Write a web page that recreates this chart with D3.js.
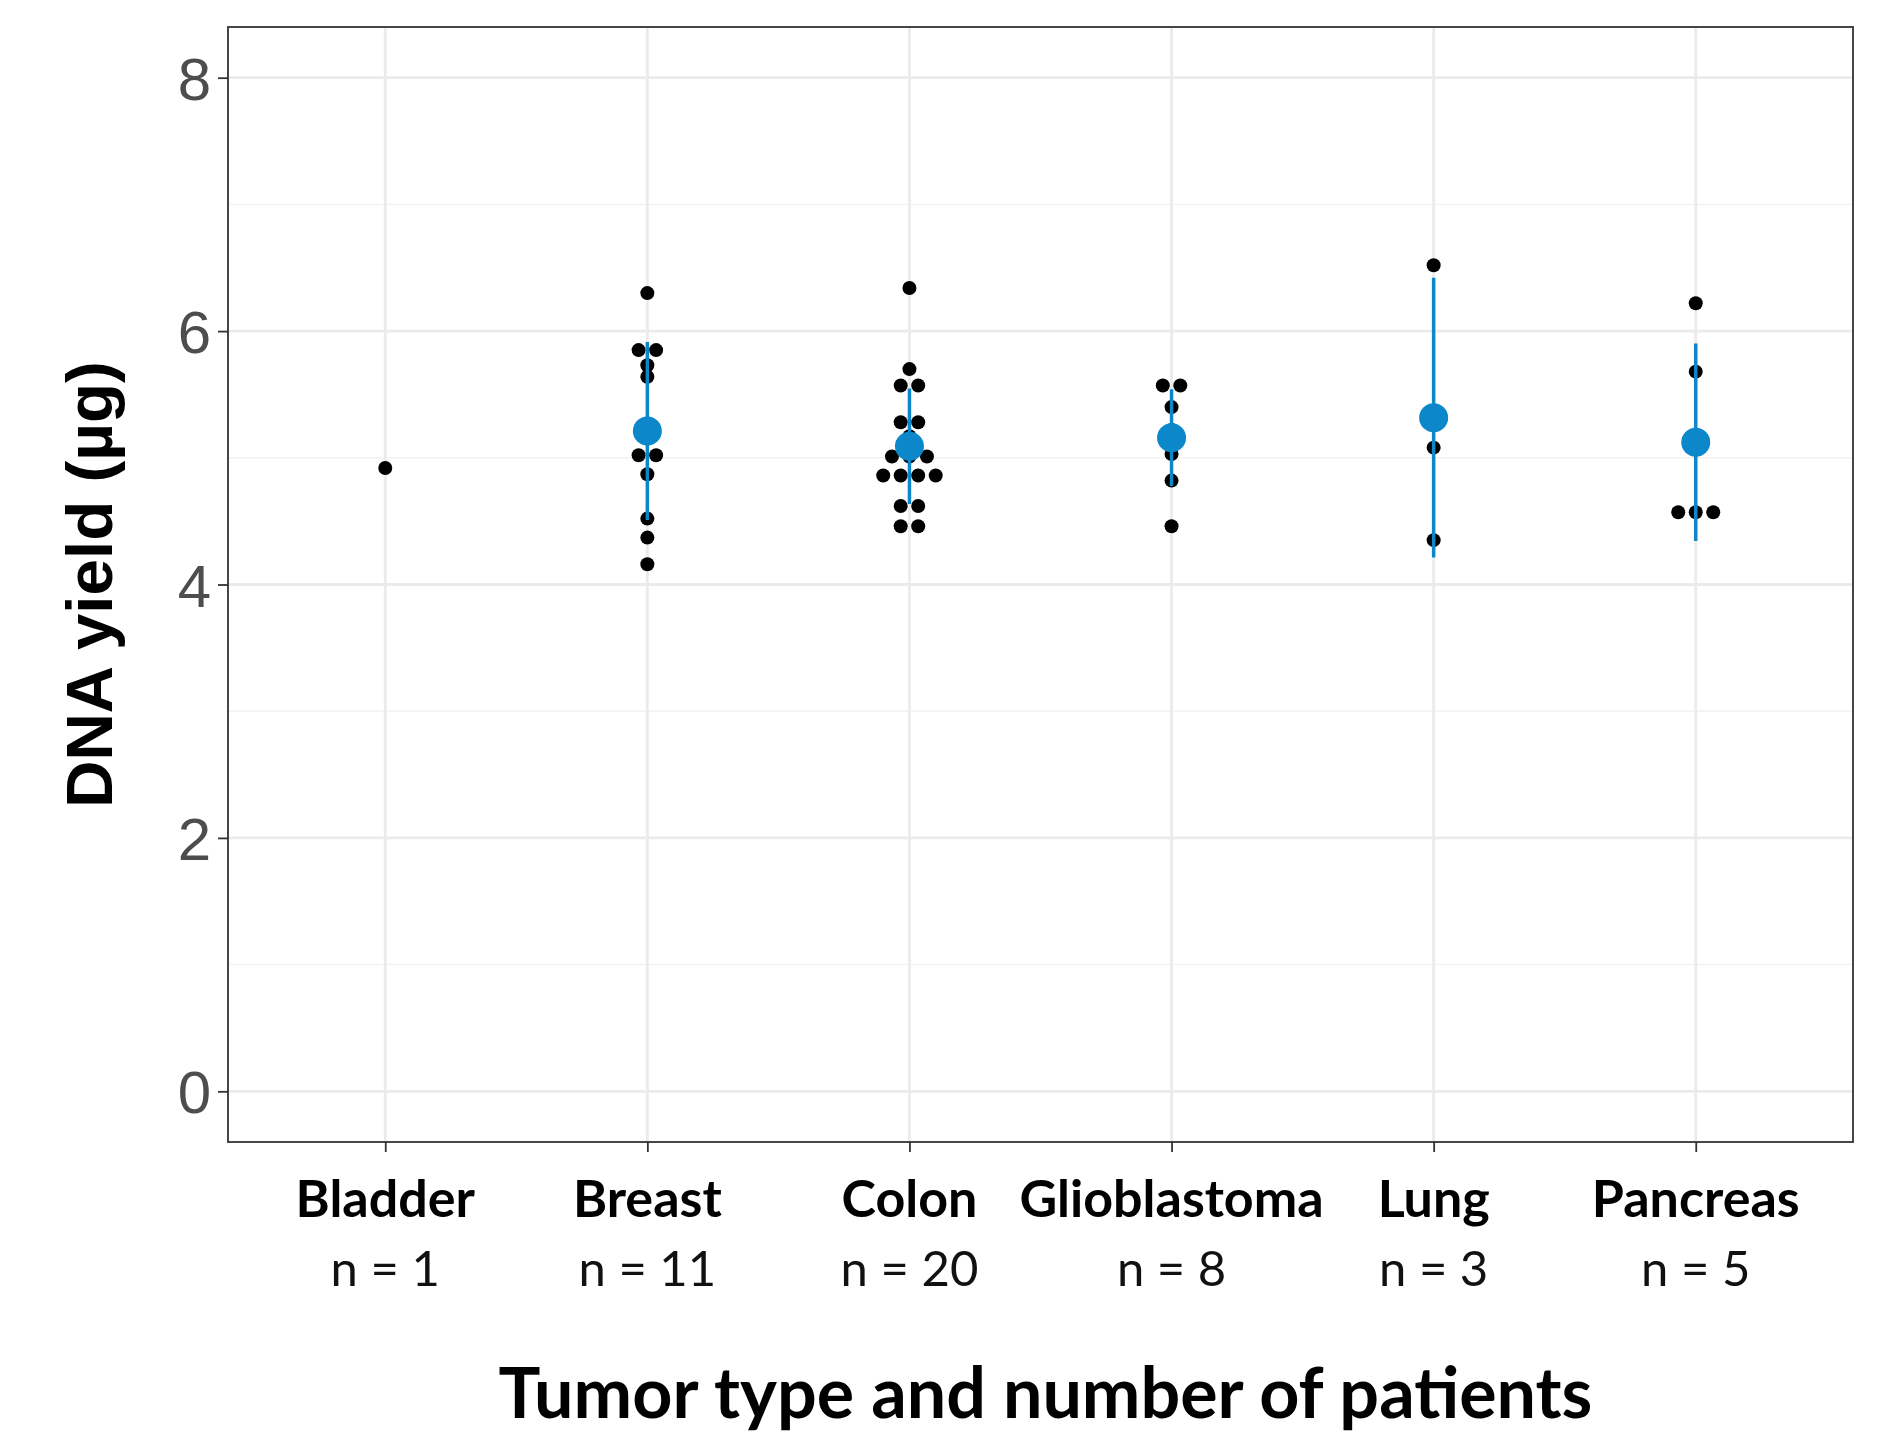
<!DOCTYPE html>
<html>
<head>
<meta charset="utf-8">
<script src="https://cdn.jsdelivr.net/npm/d3@7"></script>
<style>
  body { margin: 0; background: #fff; }
</style>
</head>
<body>
<div id="chart"></div>
<script>
// Tumor types on the x axis
const categories = ["Bladder", "Breast", "Colon", "Glioblastoma", "Lung", "Pancreas"];

// DNA yield per patient (µg)
const bladder = [4.92];
const breast = [6.30, 5.85, 5.85, 5.73, 5.64, 5.02, 5.02, 4.87, 4.52, 4.37, 4.16];
const colon = [6.34, 5.70, 5.57, 5.57, 5.28, 5.28, 5.17, 5.15, 5.13, 5.01, 5.01, 5.01,
               4.86, 4.86, 4.86, 4.86, 4.62, 4.62, 4.46, 4.46];
const glioblastoma = [5.57, 5.57, 5.40, 5.22, 5.20, 5.03, 4.82, 4.46];
const lung = [6.52, 5.08, 4.35];
const pancreas = [6.22, 5.68, 4.57, 4.57, 4.57];

const yTicks = [0, 2, 4, 6, 8];
const yMinor = [1, 3, 5, 7];

const series = [bladder, breast, colon, glioblastoma, lung, pancreas];

// Set up the dimensions of the chart
const W = 1903, H = 1437;
const margin = { top: 27, right: 50, bottom: 295, left: 228 };
const width = W - margin.left - margin.right;
const height = H - margin.top - margin.bottom;

const svg = d3.select("#chart").append("svg")
  .attr("width", W)
  .attr("height", H)
  .style("background", "#fff");

const g = svg.append("g")
  .attr("transform", "translate(" + margin.left + "," + margin.top + ")");

// Scales (ggplot-like expansion)
const x = d3.scalePoint()
  .domain(categories)
  .range([0, width])
  .padding(0.6);

const y = d3.scaleLinear()
  .domain([-0.4, 8.4])
  .range([height, 0]);

// minor grid
g.selectAll("line.minor")
  .data(yMinor)
  .enter().append("line")
  .attr("x1", 0).attr("x2", width)
  .attr("y1", d => y(d)).attr("y2", d => y(d))
  .style("stroke", "#F2F2F2")
  .style("stroke-width", 1.5);

// major grid
g.selectAll("line.hgrid")
  .data(yTicks)
  .enter().append("line")
  .attr("x1", 0).attr("x2", width)
  .attr("y1", d => y(d)).attr("y2", d => y(d))
  .style("stroke", "#EBEBEB")
  .style("stroke-width", 2.8);

g.selectAll("line.vgrid")
  .data(categories)
  .enter().append("line")
  .attr("x1", d => x(d)).attr("x2", d => x(d))
  .attr("y1", 0).attr("y2", height)
  .style("stroke", "#EBEBEB")
  .style("stroke-width", 2.8);

// Points: stack equal values side by side
const spacing = 17.5;
const points = [];
series.forEach((vals, i) => {
  const groups = d3.group(vals, v => v);
  groups.forEach((arr, v) => {
    arr.forEach((_, j) => {
      points.push({ cat: categories[i], v: v, dx: (j - (arr.length - 1) / 2) * spacing });
    });
  });
});

g.selectAll("circle.pt")
  .data(points)
  .enter().append("circle")
  .attr("class", "pt")
  .attr("cx", d => x(d.cat) + d.dx)
  .attr("cy", d => y(d.v))
  .attr("r", 7)
  .attr("fill", "#000");

// Mean ± SD
const stats = series.map((vals, i) => ({
  cat: categories[i],
  mean: d3.mean(vals),
  sd: d3.deviation(vals)
})).filter(d => d.sd !== undefined);

const blue = "#0C87CA";

g.selectAll("line.err")
  .data(stats)
  .enter().append("line")
  .attr("x1", d => x(d.cat)).attr("x2", d => x(d.cat))
  .attr("y1", d => y(d.mean - d.sd)).attr("y2", d => y(d.mean + d.sd))
  .style("stroke", blue)
  .style("stroke-width", 3.5);

g.selectAll("circle.mean")
  .data(stats)
  .enter().append("circle")
  .attr("cx", d => x(d.cat))
  .attr("cy", d => y(d.mean))
  .attr("r", 14.5)
  .attr("fill", blue);

// Panel border
g.append("rect")
  .attr("x", 0).attr("y", 0)
  .attr("width", width).attr("height", height)
  .attr("fill", "none")
  .style("stroke", "#333")
  .style("stroke-width", 1.8);

// Axes
const yAxis = d3.axisLeft(y)
  .tickValues(yTicks)
  .tickSize(10)
  .tickPadding(7);

g.append("g")
  .attr("class", "y axis")
  .call(yAxis)
  .call(a => a.select(".domain").remove())
  .call(a => a.selectAll(".tick line").style("stroke", "#333").style("stroke-width", 1.8))
  .call(a => a.selectAll(".tick text")
    .style("font-family", "'Liberation Sans', Arial, sans-serif")
    .style("font-size", "60px")
    .attr("fill", "#4D4D4D")
    .attr("dy", "0.36em"));

const xAxis = d3.axisBottom(x)
  .tickSize(10)
  .tickFormat("");

g.append("g")
  .attr("class", "x axis")
  .attr("transform", "translate(0," + height + ")")
  .call(xAxis)
  .call(a => a.select(".domain").remove())
  .call(a => a.selectAll(".tick line").style("stroke", "#333").style("stroke-width", 1.8));

// Category labels with patient counts
const labels = g.append("g").selectAll("g.lab")
  .data(categories)
  .enter().append("g")
  .attr("transform", d => "translate(" + x(d) + ",0)");

labels.append("text")
  .attr("y", 1217 - margin.top)
  .attr("text-anchor", "middle")
  .style("font-family", "Lato, 'Open Sans', sans-serif")
  .style("font-weight", "700")
  .style("font-size", "52px")
  .attr("fill", "#000")
  .text(d => d);

labels.append("text")
  .attr("y", 1286 - margin.top)
  .attr("text-anchor", "middle")
  .style("font-family", "Lato, 'Open Sans', sans-serif")
  .style("font-size", "49px")
  .attr("fill", "#111")
  .text((d, i) => "n = " + series[i].length);

// Axis titles
svg.append("text")
  .attr("x", margin.left + width / 2 + 5)
  .attr("y", 1418)
  .attr("text-anchor", "middle")
  .style("font-family", "Lato, 'Open Sans', sans-serif")
  .style("font-weight", "700")
  .style("font-size", "70px")
  .attr("fill", "#000")
  .text("Tumor type and number of patients");

svg.append("text")
  .attr("transform", "translate(112," + (margin.top + height / 2) + ") rotate(-90)")
  .attr("text-anchor", "middle")
  .style("font-family", "'Liberation Sans', Arial, sans-serif")
  .style("font-weight", "700")
  .style("font-size", "65.5px")
  .attr("fill", "#000")
  .text("DNA yield (µg)");
</script>
</body>
</html>
